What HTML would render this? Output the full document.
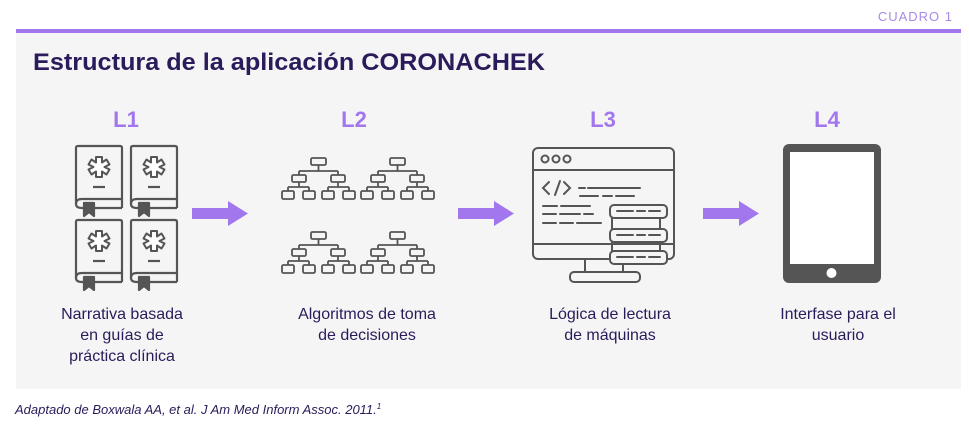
<!DOCTYPE html>
<html><head><meta charset="utf-8"><style>
html,body{margin:0;padding:0;background:#fff;width:969px;height:434px;overflow:hidden}
svg text{font-family:"Liberation Sans",sans-serif}
</style></head><body>
<svg width="969" height="434" viewBox="0 0 969 434" xmlns="http://www.w3.org/2000/svg">
<defs>
<g id="book" fill="none" stroke="#555" stroke-width="2.2" stroke-linejoin="round">
  <path d="M2 0 H44 Q46 0 46 2 V53 H6 Q0 53 0 58 Q0 62 6 62 H46" />
  <path d="M0 58 V2 Q0 0 2 0" />
  <path d="M46 53 V62"/>
  <path d="M8 57 H18 V70 L13 66 L8 70 Z" fill="#555"/>
  <g transform="translate(23,21)" fill="#fff" stroke="#555" stroke-width="2">
    <path d="M-3 -10 H3 V-4.5 L7.5 -7.5 L10.5 -2.5 L5.5 0 L10.5 2.5 L7.5 7.5 L3 4.5 V10 H-3 V4.5 L-7.5 7.5 L-10.5 2.5 L-5.5 0 L-10.5 -2.5 L-7.5 -7.5 L-3 -4.5 Z"/>
  </g>
  <path d="M17 41 H29"/>
</g>
<g id="tree" fill="#f5f5f5" stroke="#555" stroke-width="1.8">
  <rect x="29" y="0" width="15" height="7" rx="1.5"/>
  <path d="M36.5 7 V13 M17 13 H56 M17 13 V17 M56 13 V17" fill="none"/>
  <rect x="10" y="17" width="14" height="7" rx="1.5"/>
  <rect x="49" y="17" width="14" height="7" rx="1.5"/>
  <path d="M17 24 V29 M56 24 V29 M6 29 H27 M46 29 H67 M6 29 V33 M27 29 V33 M46 29 V33 M67 29 V33" fill="none"/>
  <rect x="0" y="33" width="12" height="8" rx="1.5"/>
  <rect x="21" y="33" width="12" height="8" rx="1.5"/>
  <rect x="40" y="33" width="12" height="8" rx="1.5"/>
  <rect x="61" y="33" width="12" height="8" rx="1.5"/>
</g>
<path id="arrow" d="M0 7 H36 V0 L56 12.5 L36 25 V18 H0 Z" fill="#a277ee"/>
</defs>
<text x="953" y="21" font-size="13" fill="#a98ae6" text-anchor="end" letter-spacing="1">CUADRO 1</text>
<rect x="16" y="33" width="945" height="356" fill="#f5f5f5"/>
<rect x="16" y="29" width="945" height="4" fill="#a277ee"/>
<text x="33" y="70" font-size="24" font-weight="bold" fill="#2b1b5a" textLength="512" lengthAdjust="spacingAndGlyphs">Estructura de la aplicación CORONACHEK</text>
<g font-size="22" font-weight="bold" fill="#a277ee" text-anchor="middle">
<text x="126" y="127">L1</text><text x="354" y="127">L2</text><text x="603" y="127">L3</text><text x="827" y="127">L4</text>
</g>
<use href="#book" x="76" y="146"/><use href="#book" x="131" y="146"/>
<use href="#book" x="76" y="220"/><use href="#book" x="131" y="220"/>
<use href="#arrow" x="192" y="201"/>
<use href="#arrow" x="458" y="201"/>
<use href="#arrow" x="703" y="201"/>
<use href="#tree" x="282" y="158"/><use href="#tree" x="361" y="158"/>
<use href="#tree" x="282" y="232"/><use href="#tree" x="361" y="232"/>
<!-- monitor -->
<g fill="none" stroke="#555" stroke-width="2" stroke-linecap="round">
  <rect x="533" y="148" width="141" height="111" rx="5" fill="#f5f5f5"/>
  <path d="M533 170 H674 M533 244 H674"/>
  <circle cx="545" cy="159" r="3.5"/><circle cx="556" cy="159" r="3.5"/><circle cx="567" cy="159" r="3.5"/>
  <path d="M549 182 L543 188 L549 194 M555 195 L560 181 M564 182 L570 188 L564 194"/>
  <path d="M579 188 H585 M588 188 H640 M580 196 H598 M603 196 H612 M616 196 H634"/>
  <path d="M543 206 H557 M561 206 H590 M543 214 H556 M560 214 H580 M584 214 H593 M543 223 H556 M560 223 H573 M577 223 H601"/>
  <path d="M585 259 V272 M623 259 V272"/>
  <rect x="570" y="272" width="70" height="10" rx="4" fill="#f5f5f5"/>
  <path d="M612 218 V258 M660 218 V258"/>
  <rect x="610" y="205" width="57" height="13" rx="4" fill="#f5f5f5"/>
  <rect x="610" y="229" width="57" height="13" rx="4" fill="#f5f5f5"/>
  <rect x="610" y="251" width="57" height="13" rx="4" fill="#f5f5f5"/>
  <path d="M617 211 H633 M637 211 H645 M649 211 H660 M617 235 H633 M637 235 H645 M649 235 H660 M617 257 H633 M637 257 H645 M649 257 H660"/>
</g>
<!-- tablet -->
<rect x="783" y="144" width="98" height="139" rx="6" fill="#555"/>
<rect x="790" y="152" width="84" height="112" fill="#fff"/>
<circle cx="831.5" cy="273" r="5" fill="#fff"/>
<g font-size="16" fill="#2b1b5a" text-anchor="middle">
<text x="122" y="319">Narrativa basada</text>
<text x="122" y="340">en guías de</text>
<text x="122" y="361">práctica clínica</text>
<text x="367" y="319">Algoritmos de toma</text>
<text x="367" y="340">de decisiones</text>
<text x="610" y="319">Lógica de lectura</text>
<text x="610" y="340">de máquinas</text>
<text x="838" y="319">Interfase para el</text>
<text x="838" y="340">usuario</text>
</g>
<text x="15" y="414" font-size="13" font-style="italic" fill="#2b1b5a">Adaptado de Boxwala AA, et al. J Am Med Inform Assoc. 2011.<tspan font-size="8" dy="-5">1</tspan></text>
</svg>
</body></html>
